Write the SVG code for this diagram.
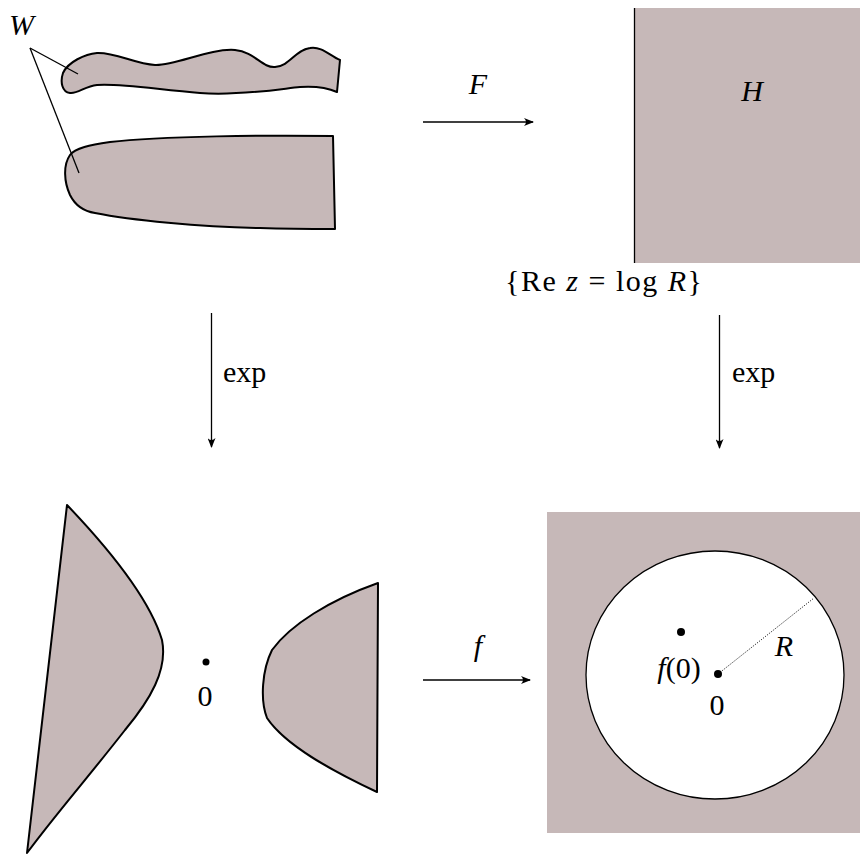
<svg xmlns="http://www.w3.org/2000/svg" width="860" height="856" viewBox="0 0 860 856" font-family="Liberation Serif, serif">
<style>
.reg{fill:#c6b8b8;stroke:#000;stroke-width:2;stroke-linejoin:round}
.ln{stroke:#000;stroke-width:1.3;fill:none}
.t{font-family:'Liberation Serif',serif;font-size:30px;fill:#000}
.i{font-style:italic}
</style>
<defs>
<marker id="ah" viewBox="0 0 10 8" refX="9" refY="4" markerWidth="10" markerHeight="8" markerUnits="userSpaceOnUse" orient="auto">
<path d="M0,0 Q4,4 0,8 L10,4 Z" fill="#000"/>
</marker>
</defs>
<g id="W">
<path class="reg" d="M340,60 C330,56 322,46 310,48 C295,50 290,66 275,67 C262,68 255,52 235,50 C210,48 175,66 155,65 C135,64 115,52 97,53 C85,54 68,62 63,73 C60,82 62,92 70,93 C78,94 85,86 97,85 C120,83 160,90 200,93 C240,96 280,89 300,87 C315,86 328,88 337,92 Z"/>
<path class="reg" d="M333,136 C270,135 160,136 110,142 C90,145 75,148 70,155 C63,165 64,182 70,195 C75,205 82,211 95,213 C130,220 200,227 260,228 C290,229 320,229 335,229 Z"/>
<line class="ln" x1="30" y1="48" x2="78" y2="74"/>
<line class="ln" x1="30" y1="48" x2="79" y2="173"/>
<text class="t i" x="9" y="35">W</text>
</g>
<g id="H">
<rect x="634" y="8" width="226" height="255" fill="#c6b8b8"/>
<line x1="634.5" y1="8" x2="634.5" y2="263" stroke="#000" stroke-width="1.3"/>
<text class="t i" x="752" y="101" text-anchor="middle">H</text>
<text class="t" x="505" y="291" textLength="197" lengthAdjust="spacing">{Re <tspan class="i">z</tspan> = log <tspan class="i">R</tspan>}</text>
</g>
<g id="expW">
<path class="reg" d="M67,505 C110,550 150,600 162,640 C168,670 150,700 125,730 C90,775 55,815 27,853 Z"/>
<path class="reg" d="M378,583 C330,600 290,625 272,650 C262,670 260,700 267,718 C285,745 330,770 377,792 Z"/>
<circle cx="206" cy="662" r="3.5" fill="#000"/>
<text class="t" x="205" y="706" text-anchor="middle">0</text>
</g>
<g id="disk">
<rect x="547" y="512" width="313" height="321" fill="#c6b8b8"/>
<ellipse cx="715" cy="675" rx="129" ry="124" fill="#fff" stroke="#000" stroke-width="1.3"/>
<line x1="718" y1="674" x2="814" y2="598" stroke="#000" stroke-width="1" stroke-dasharray="1,1.5"/>
<circle cx="718" cy="674" r="4" fill="#000"/>
<circle cx="681" cy="632" r="4" fill="#000"/>
<text class="t" x="679" y="678" text-anchor="middle"><tspan class="i">f</tspan>(0)</text>
<text class="t" x="717" y="715" text-anchor="middle">0</text>
<text class="t i" x="784" y="656" text-anchor="middle">R</text>
</g>
<g id="connectors">
<line class="ln" x1="423" y1="122" x2="533" y2="122" marker-end="url(#ah)"/>
<text class="t i" x="478" y="94" text-anchor="middle">F</text>
<line class="ln" x1="211.5" y1="313" x2="211.5" y2="447" marker-end="url(#ah)"/>
<text class="t" x="223" y="382">exp</text>
<line class="ln" x1="719.5" y1="315" x2="719.5" y2="448" marker-end="url(#ah)"/>
<text class="t" x="732" y="382">exp</text>
<line class="ln" x1="423" y1="680" x2="530" y2="680" marker-end="url(#ah)"/>
<text class="t i" x="478" y="656" text-anchor="middle">f</text>
</g>
</svg>
